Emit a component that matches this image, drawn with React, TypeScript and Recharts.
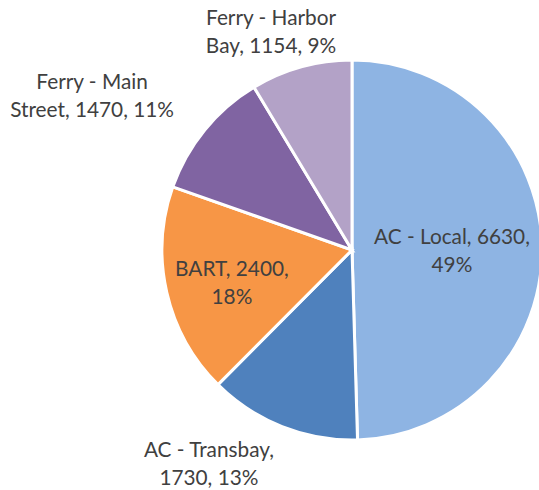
import { PieChart, Pie, Cell } from "recharts"

const categories = [
  "AC - Local",
  "AC - Transbay",
  "BART",
  "Ferry - Main Street",
  "Ferry - Harbor Bay",
]
const riders = [6630, 1730, 2400, 1470, 1154]
const pctLabels = [49, 13, 18, 11, 9]

// label text split into lines as in the reference
const labelLines = [
  (v: number, p: number) => [`AC - Local, ${v},`, `${p}%`],
  (v: number, p: number) => ["AC - Transbay,", `${v}, ${p}%`],
  (v: number, p: number) => [`BART, ${v},`, `${p}%`],
  (v: number, p: number) => ["Ferry - Main", `Street, ${v}, ${p}%`],
  (v: number, p: number) => ["Ferry - Harbor", `Bay, ${v}, ${p}%`],
]

const colors = ["#8EB4E3", "#4F81BD", "#F79646", "#8064A2", "#B3A2C7"]

// label centre, relative to pie centre, in units of the radius
const labelOffset = [
  [0.526, -0.005],
  [-0.753, 1.116],
  [-0.632, 0.168],
  [-1.368, -0.821],
  [-0.426, -1.153],
]

const data = categories.map((name, i) => ({ name, value: riders[i] }))

const FONT = "Lato, 'Liberation Sans', sans-serif"
const LINE_H = 28

function renderLabel(props: any) {
  const { cx, cy, outerRadius, index, value } = props
  const [ox, oy] = labelOffset[index]
  const x = cx + ox * outerRadius
  const y = cy + oy * outerRadius
  const lines = labelLines[index](value, pctLabels[index])
  return (
    <text
      x={x}
      y={y}
      textAnchor="middle"
      fill="#404040"
      fontFamily={FONT}
      fontSize={20.8}
    >
      {lines.map((l, i) => (
        <tspan
          key={i}
          x={x}
          y={y + (i - (lines.length - 1) / 2) * LINE_H}
          dominantBaseline="central"
        >
          {l}
        </tspan>
      ))}
    </text>
  )
}

export default function App() {
  return (
    <div style={{ position: "fixed", left: 0, top: 0, background: "#fff" }}>
      <PieChart
        width={539}
        height={490}
        margin={{ top: 0, right: 0, bottom: 0, left: 0 }}
      >
        <Pie
          data={data}
          dataKey="value"
          nameKey="name"
          cx={352}
          cy={250}
          outerRadius={190}
          startAngle={90}
          endAngle={-270}
          stroke="#fff"
          strokeWidth={3}
          label={renderLabel}
          labelLine={false}
          isAnimationActive={false}
        >
          {data.map((d, i) => (
            <Cell key={d.name} fill={colors[i]} />
          ))}
        </Pie>
      </PieChart>
    </div>
  )
}
